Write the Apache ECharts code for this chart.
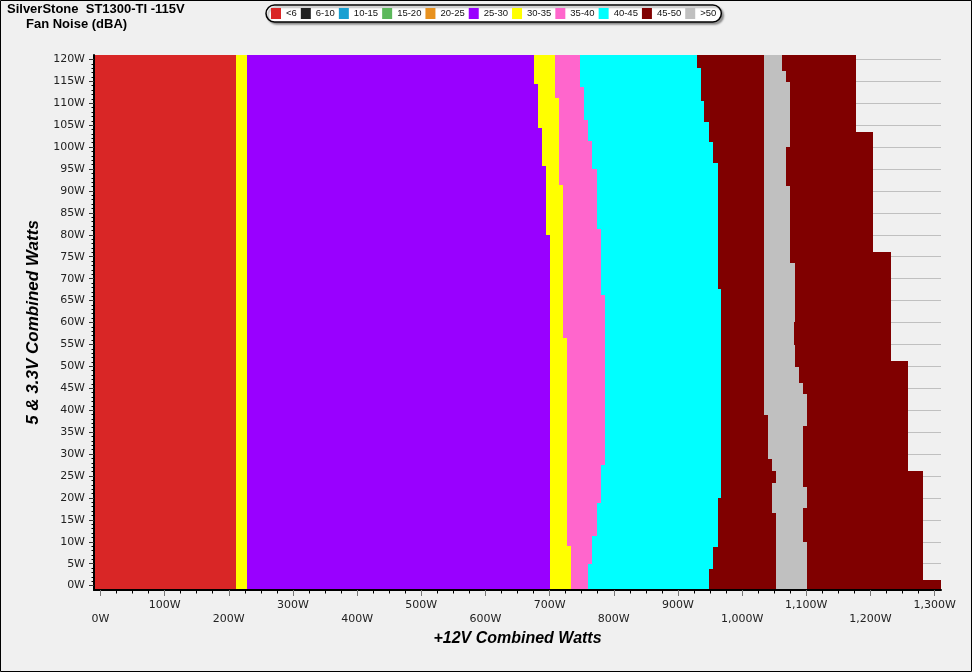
<!DOCTYPE html>
<html><head><meta charset="utf-8">
<script src="https://cdn.jsdelivr.net/npm/echarts@6/dist/echarts.min.js"></script>
<style>html,body{margin:0;padding:0;background:#f0f0f0}#c{width:972px;height:672px}</style>
</head><body><div id="c"></div>
<script>
// Legend categories (fan noise, dBA) and their colours
const legendNames = ['<6','6-10','10-15','15-20','20-25','25-30','30-35','35-40','40-45','45-50','>50'];
const legendColors = ['#d92626','#222222','#18a0d2','#5cb85c','#e8911e','#9900ff','#ffff00','#ff66cc','#00ffff','#800000','#c0c0c0'];

// Tick values
const xTickLabels = [0,100,200,300,400,500,600,700,800,900,1000,1100,1200,1300];
const xMinorTicks = [0,25,50,75,100,125,150,175,200,225,250,275,300,325,350,375,400,425,450,475,500,525,550,575,600,625,650,675,700,725,750,775,800,825,850,875,900,925,950,975,1000,1025,1050,1075,1100,1125,1150,1175,1200,1225,1250,1275,1300];
const yTickLabels = [0,5,10,15,20,25,30,35,40,45,50,55,60,65,70,75,80,85,90,95,100,105,110,115,120];
const yMinorTicks = [0,1,2,3,4,5,6,7,8,9,10,11,12,13,14,15,16,17,18,19,20,21,22,23,24,25,26,27,28,29,30,31,32,33,34,35,36,37,38,39,40,41,42,43,44,45,46,47,48,49,50,51,52,53,54,55,56,57,58,59,60,61,62,63,64,65,66,67,68,69,70,71,72,73,74,75,76,77,78,79,80,81,82,83,84,85,86,87,88,89,90,91,92,93,94,95,96,97,98,99,100,101,102,103,104,105,106,107,108,109,110,111,112,113,114,115,116,117,118,119,120];

// Zone right edges: [from 5&3.3V watts, +12V watts where the zone ends] (step, valid up to next entry)
const redEdge        = [[-1, 212]];
const yellowLowEdge  = [[-1, 228]];
const purpleEdge     = [[-1, 700], [80.0, 693.8], [95.7, 687.6], [104.4, 681.4], [114.5, 675.1]];
const yellowHighEdge = [[-1, 732.8], [9.0, 726.5], [56.4, 720.3], [91.4, 714.1], [111.2, 707.8]];
const pinkEdge       = [[-1, 759.3], [4.9, 765.5], [11.3, 773.3], [18.8, 779.5], [27.5, 785.8], [66.3, 779.5], [81.3, 773.3], [95.0, 765.5], [101.3, 759.3], [106.2, 753.0], [113.8, 746.8]];
const cyanEdge       = [[-1, 947.7], [3.8, 953.9], [8.7, 961.7], [19.9, 967.9], [67.6, 961.7], [96.3, 953.9], [101.2, 947.7], [105.7, 941.4], [110.5, 935.2], [118.0, 929.0]];
const maroonLowEdge  = [[-1, 1052.2], [16.5, 1046.0], [23.5, 1052.2], [26.2, 1046.0], [28.8, 1039.8], [38.9, 1033.5]];
const grayEdge       = [[-1, 1100.5], [10.0, 1094.3], [17.6, 1100.5], [22.5, 1094.3], [36.4, 1100.5], [43.7, 1094.3], [46.2, 1088.0], [49.9, 1081.8], [54.9, 1080.3], [60.2, 1081.8], [73.6, 1074.0], [91.1, 1067.8], [100.0, 1074.0], [114.9, 1067.8], [117.4, 1061.6]];
const maroonHighEdge = [[-1, 1309.3], [1.25, 1282.7], [26.1, 1257.8], [51.2, 1231.3], [76.1, 1204.8], [103.5, 1178.3]];

const X_MIN = -10, X_MAX = 1310, Y_MIN = -1, Y_MAX = 121;

function segs(edge) {
  return edge.map((e, i) => [e[0], i + 1 < edge.length ? edge[i + 1][0] : Y_MAX, e[1]]);
}
function renderItem(params, api) {
  const y0 = api.value(0), y1 = api.value(1), x = api.value(2);
  const p0 = api.coord([X_MIN, y0]);
  const p1 = api.coord([x, y1]);
  const l = Math.round(p0[0]), r = Math.round(p1[0]);
  const b = Math.round(p0[1]), t = Math.round(p1[1]);
  return { type: 'rect', shape: { x: l, y: t, width: r - l, height: b - t }, style: { fill: api.visual('color') } };
}
function colorOf(name) { return legendColors[legendNames.indexOf(name)]; }
function zone(name, edge) {
  return { type: 'custom', name: name, renderItem: renderItem, data: segs(edge),
    encode: { x: 2, y: [0, 1] }, itemStyle: { color: colorOf(name) }, xAxisIndex: 0, yAxisIndex: 0, silent: true };
}
const series = [
  zone('45-50', maroonHighEdge),
  zone('>50', grayEdge),
  zone('45-50', maroonLowEdge),
  zone('40-45', cyanEdge),
  zone('35-40', pinkEdge),
  zone('30-35', yellowHighEdge),
  zone('25-30', purpleEdge),
  zone('30-35', yellowLowEdge),
  zone('<6', redEdge)
];
['6-10','10-15','15-20','20-25'].forEach(n => series.push({ type: 'custom', name: n, renderItem: renderItem, data: [], itemStyle: { color: colorOf(n) } }));

function fmtW(v) { return String(v).replace(/\B(?=(\d{3})+(?!\d))/g, ',') + 'W'; }
const lblFont = 'DejaVu Sans';

const chart = echarts.init(document.getElementById('c'));
chart.setOption({
  backgroundColor: '#f0f0f0',
  animation: false,
  title: [
    { text: 'SilverStone  ST1300-TI -115V', left: 7, top: 3, padding: 0, textStyle: { fontSize: 13, fontWeight: 'bold', fontFamily: 'Arial', color: '#000' } },
    { text: 'Fan Noise (dBA)', left: 26, top: 18, padding: 0, textStyle: { fontSize: 13, fontWeight: 'bold', fontFamily: 'Arial', color: '#000' } }
  ],
  legend: {
    left: 266, top: 5, padding: [3, 5, 3, 5], itemWidth: 10, itemHeight: 11, itemGap: 4, icon: 'rect',
    backgroundColor: '#fff', borderColor: '#000', borderWidth: 1.5, borderRadius: 9,
    shadowColor: 'rgba(0,0,0,0.35)', shadowBlur: 2, shadowOffsetX: 2, shadowOffsetY: 2,
    selectedMode: false,
    formatter: name => '{t|' + name + '}',
    textStyle: { rich: { t: { width: 25.5, fontSize: 9.5, fontFamily: 'Arial', color: '#111', align: 'left' } } },
    data: legendNames
  },
  grid: { left: 94, right: 31, top: 55, bottom: 82 },
  xAxis: [
    { type: 'value', min: X_MIN, max: X_MAX, position: 'bottom', z: 10,
      name: '+12V Combined Watts', nameLocation: 'middle', nameGap: 33,
      nameTextStyle: { fontSize: 16, fontWeight: 'bold', fontStyle: 'italic', fontFamily: 'Arial', color: '#000' },
      axisLine: { show: true, onZero: false, lineStyle: { color: '#000', width: 2 } },
      axisTick: { show: true, customValues: xTickLabels, length: 6, lineStyle: { color: '#777' } },
      axisLabel: { customValues: xTickLabels, margin: 8, lineHeight: 14, fontSize: 11, fontFamily: lblFont, color: '#222',
        formatter: v => ((v / 100) % 2 === 0 ? '\n' : '') + fmtW(v) },
      splitLine: { show: false } },
    { type: 'value', min: X_MIN, max: X_MAX, position: 'bottom', z: 9,
      axisLine: { show: false, onZero: false },
      axisTick: { show: true, customValues: xMinorTicks, length: 3.5, lineStyle: { color: '#000' } },
      axisLabel: { show: false }, splitLine: { show: false } }
  ],
  yAxis: [
    { type: 'value', min: Y_MIN, max: Y_MAX, position: 'left', z: 10,
      name: '5 & 3.3V Combined Watts', nameLocation: 'middle', nameGap: 46, nameRotate: 90,
      nameTextStyle: { fontSize: 17, fontWeight: 'bold', fontStyle: 'italic', fontFamily: 'Arial', color: '#000' },
      axisLine: { show: true, onZero: false, lineStyle: { color: '#000', width: 2 } },
      axisTick: { show: true, customValues: yTickLabels, length: 5, lineStyle: { color: '#333' } },
      axisLabel: { customValues: yTickLabels, margin: 9, fontSize: 11, fontFamily: lblFont, color: '#222', formatter: v => fmtW(v) },
      splitLine: { show: false } },
    { type: 'value', min: Y_MIN, max: Y_MAX, position: 'left', z: 9,
      axisLine: { show: false, onZero: false },
      axisTick: { show: true, customValues: yMinorTicks, length: 2.5, lineStyle: { color: '#000' } },
      axisLabel: { show: false }, splitLine: { show: false } },
    { type: 'value', min: Y_MIN, max: Y_MAX, position: 'left', z: 0,
      axisLine: { show: false, onZero: false },
      axisTick: { show: false, customValues: yTickLabels },
      axisLabel: { show: false },
      splitLine: { show: true, lineStyle: { color: '#c0c0c0', width: 1 } } }
  ],
  graphic: [{ type: 'rect', shape: { x: 0.5, y: 0.5, width: 971, height: 671 }, style: { fill: 'none', stroke: '#000', lineWidth: 1 }, silent: true, z: 100 }],
  series: series
});
</script></body></html>
